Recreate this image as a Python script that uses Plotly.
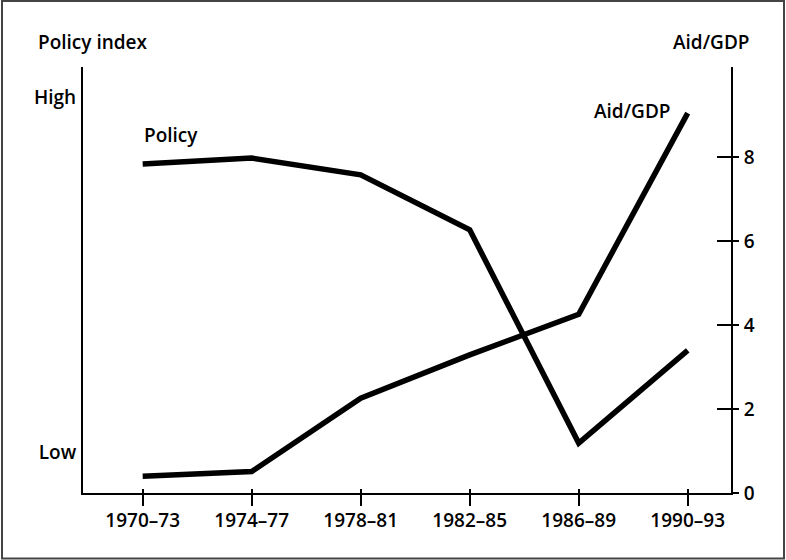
import plotly.graph_objects as go

periods = ["1970–73", "1974–77", "1978–81", "1982–85", "1986–89", "1990–93"]
policy_index = [7.84, 7.98, 7.58, 6.27, 1.19, 3.40]   # relative index (Low..High)
aid_gdp = [0.40, 0.51, 2.26, 3.29, 4.26, 9.05]         # percent
aid_ticks = [0, 2, 4, 6, 8]
policy_tickvals = [0.98, 9.43]
policy_ticktext = ["Low", "High"]

W, H = 786, 560
L, R, T, B = 83, 731, 67, 493.5
PW, PH = R - L, B - T
YMAX = 10.15
FONT = "Open Sans"
FS = 19
FW = 600


def px(xp):
    return (xp - L) / PW


def py(yp):
    return (B - yp) / PH


fig = go.Figure()
fig.add_trace(go.Scatter(x=periods, y=policy_index, mode="lines",
                         line=dict(color="black", width=5.5), hoverinfo="skip",
                         xaxis="x", yaxis="y"))
fig.add_trace(go.Scatter(x=periods, y=aid_gdp, mode="lines",
                         line=dict(color="black", width=5.5), hoverinfo="skip",
                         xaxis="x", yaxis="y2"))
# invisible helpers so the tick-overlay axes are drawn
fig.add_trace(go.Scatter(x=periods, y=aid_gdp, mode="lines", opacity=0,
                         hoverinfo="skip", xaxis="x2", yaxis="y3"))

xr = [-(142.7 - L) / 109.0, (R - 142.7) / 109.0]
tf = dict(family=FONT, size=FS, color="black", weight=FW)

fig.update_layout(
    width=W, height=H,
    margin=dict(l=L, r=W - R, t=T, b=H - B, pad=0),
    paper_bgcolor="white", plot_bgcolor="white",
    showlegend=False,
    font=tf,
    xaxis=dict(type="category", range=xr, showgrid=False, zeroline=False,
               showline=True, linecolor="black", linewidth=2,
               ticks="outside", ticklen=11, tickwidth=2, tickcolor="black",
               ticklabelstandoff=-2,
               tickfont=tf, anchor="y", fixedrange=True),
    xaxis2=dict(type="category", range=xr, overlaying="x", anchor="y",
                showgrid=False, zeroline=False, showline=False,
                ticks="inside", ticklen=4, tickwidth=2, tickcolor="black",
                showticklabels=False, categoryorder="array", categoryarray=periods),
    yaxis=dict(range=[0, YMAX], showgrid=False, zeroline=False,
               showline=True, linecolor="black", linewidth=2,
               tickmode="array", tickvals=policy_tickvals, ticktext=policy_ticktext,
               ticks="", ticklabelstandoff=1,
               tickfont=tf, fixedrange=True),
    yaxis2=dict(range=[0, YMAX], overlaying="y", side="right", anchor="x",
                showgrid=False, zeroline=False,
                showline=True, linecolor="black", linewidth=2,
                tickmode="array", tickvals=aid_ticks,
                ticks="outside", ticklen=6, tickwidth=2, tickcolor="black",
                ticklabelstandoff=1,
                tickfont=tf, fixedrange=True),
    yaxis3=dict(range=[0, YMAX], overlaying="y", side="right", anchor="x",
                showgrid=False, zeroline=False, showline=False,
                tickmode="array", tickvals=aid_ticks,
                ticks="inside", ticklen=14, tickwidth=2, tickcolor="black",
                showticklabels=False),
)

fig.add_shape(type="rect", xref="paper", yref="paper",
              x0=px(2), x1=px(784), y0=py(559), y1=py(1),
              line=dict(color="#444", width=2), fillcolor="rgba(0,0,0,0)")

ann = [
    ("Policy index", 36, 42, "left"),
    ("Aid/GDP", 752, 42, "right"),
    ("Policy", 142, 135, "left"),
    ("Aid/GDP", 673, 111, "right"),
]
for text, xpix, ypix, anchor in ann:
    fig.add_annotation(text=text, xref="paper", yref="paper",
                       x=px(xpix), y=py(ypix), xanchor=anchor, yanchor="middle",
                       showarrow=False, font=tf)

fig.write_html("out.html", config={"displayModeBar": False},
               post_script="document.body.style.margin='0';document.body.style.overflow='hidden';")
